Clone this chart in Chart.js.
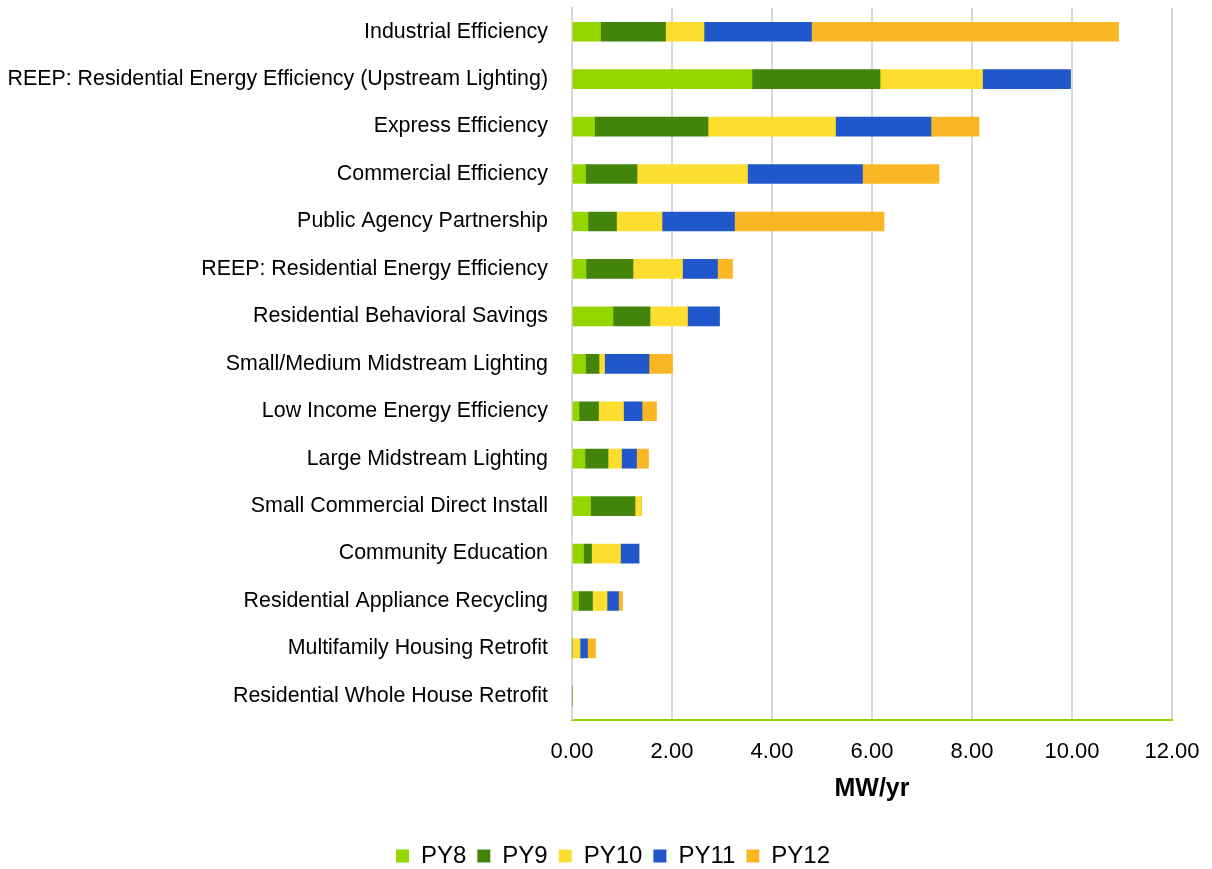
<!DOCTYPE html>
<html lang="en">
<head>
    <meta charset="UTF-8">
    <title>MW/yr by program</title>
    <script src="https://cdn.jsdelivr.net/npm/chart.js@4.4.1/dist/chart.umd.min.js"></script>
    <style>
        html, body { margin: 0; padding: 0; background: #fff; overflow: hidden; }
        .wrap { width: 1212px; height: 869px; }
        canvas { display: block; }
    </style>
</head>
<body>
    <div class="wrap">
        <canvas id="chart" width="1212" height="869"></canvas>
    </div>

    <script>
        const programs = [
            'Industrial Efficiency',
            'REEP: Residential Energy Efficiency (Upstream Lighting)',
            'Express Efficiency',
            'Commercial Efficiency',
            'Public Agency Partnership',
            'REEP: Residential Energy Efficiency',
            'Residential Behavioral Savings',
            'Small/Medium Midstream Lighting',
            'Low Income Energy Efficiency',
            'Large Midstream Lighting',
            'Small Commercial Direct Install',
            'Community Education',
            'Residential Appliance Recycling',
            'Multifamily Housing Retrofit',
            'Residential Whole House Retrofit'
        ]
        const py8  = [0.57, 3.60, 0.45, 0.27, 0.32, 0.28, 0.82, 0.27, 0.14, 0.26, 0.37, 0.23, 0.13, 0.00, 0]
        const py9  = [1.30, 2.56, 2.27, 1.03, 0.57, 0.94, 0.74, 0.27, 0.39, 0.46, 0.89, 0.16, 0.28, 0.00, 0]
        const py10 = [0.77, 2.05, 2.55, 2.21, 0.91, 0.99, 0.75, 0.11, 0.50, 0.27, 0.13, 0.58, 0.29, 0.16, 0]
        const py11 = [2.15, 1.76, 1.91, 2.30, 1.45, 0.70, 0.64, 0.89, 0.37, 0.30, 0.00, 0.37, 0.23, 0.15, 0]
        const py12 = [6.14, 0.00, 0.96, 1.53, 2.99, 0.30, 0.00, 0.47, 0.29, 0.24, 0.00, 0.00, 0.08, 0.16, 0]
        const xTicks = [0, 2, 4, 6, 8, 10, 12]

        const font = "'Liberation Sans', Arial, sans-serif"
        Chart.defaults.font.family = font
        Chart.defaults.color = '#000'

        const mk = (label, data, color) => ({
            label: label, data: data, backgroundColor: color,
            borderWidth: 0, barThickness: 19
        })

        // the legend box stops at the right padding, push it back to the page centre
        const legendShift = {
            id: 'legendShift',
            afterUpdate(c) {
                c.legend.left += 27
                c.legend.right += 27
            }
        }

        let ctx = document.getElementById('chart').getContext('2d')
        let chart = new Chart(ctx, {
            type: 'bar',
            data: {
                labels: programs,
                datasets: [
                    mk('PY8', py8, '#95d600'),
                    mk('PY9', py9, '#42840c'),
                    mk('PY10', py10, '#fcdd30'),
                    mk('PY11', py11, '#2058cb'),
                    mk('PY12', py12, '#f9b724')
                ]
            },
            plugins: [legendShift],
            options: {
                indexAxis: 'y',
                responsive: false,
                animation: false,
                layout: { padding: { left: 0, right: 40, top: 8, bottom: -9 } },
                scales: {
                    x: {
                        stacked: true,
                        min: 0,
                        max: 12,
                        afterBuildTicks: s => { s.ticks = xTicks.map(v => ({ value: v })) },
                        ticks: {
                            font: { size: 22 },
                            padding: 0,
                            callback: v => v.toFixed(2)
                        },
                        grid: {
                            color: '#d9d9d9', lineWidth: 2,
                            drawTicks: true, tickLength: 19, tickColor: 'rgba(0,0,0,0)'
                        },
                        border: { color: '#92d000', width: 2 },
                        title: {
                            display: true,
                            text: 'MW/yr',
                            font: { size: 25, weight: 'bold' },
                            padding: { top: 9, bottom: 29 }
                        }
                    },
                    y: {
                        stacked: true,
                        afterFit: s => { s.width = 572 },
                        ticks: { font: { size: 21.4, lineHeight: 0.7 }, padding: 0 },
                        grid: {
                            display: true, drawOnChartArea: false,
                            drawTicks: true, tickLength: 24, tickColor: 'rgba(0,0,0,0)'
                        },
                        border: { color: '#d9d9d9', width: 2 }
                    }
                },
                plugins: {
                    legend: {
                        position: 'bottom',
                        labels: {
                            font: { size: 24 },
                            boxWidth: 13,
                            boxHeight: 13,
                            padding: 11
                        }
                    },
                    tooltip: { enabled: false }
                }
            }
        })
    </script>
</body>
</html>
